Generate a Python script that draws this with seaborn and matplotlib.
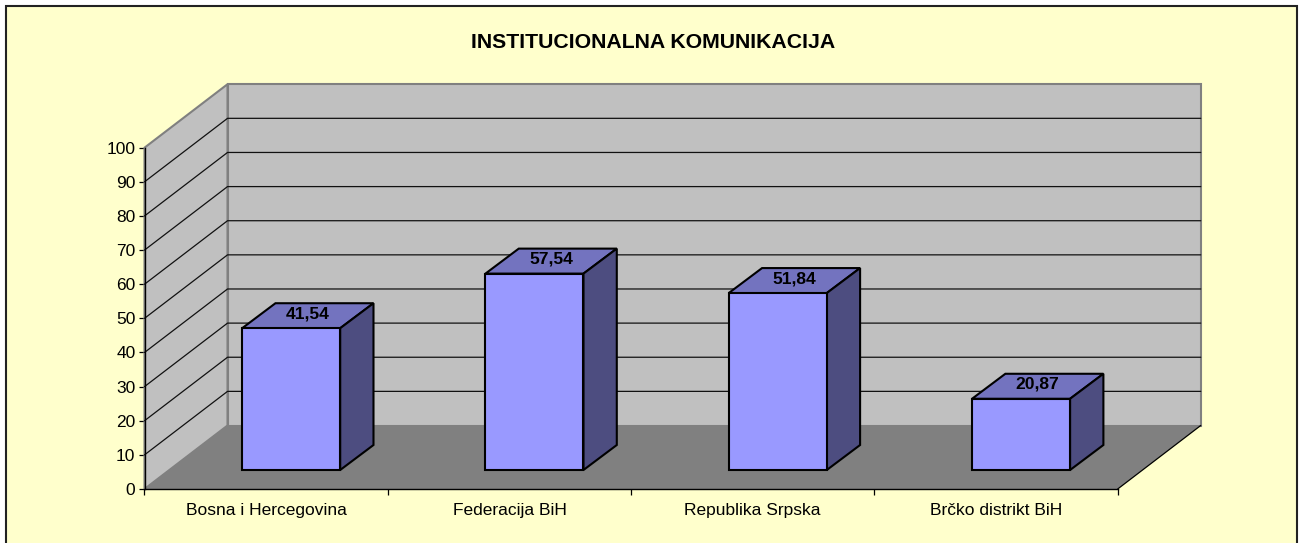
#!/usr/bin/env python3
"""Institutional communication scores, drawn as a fake-3D column chart."""

from __future__ import annotations

import matplotlib

matplotlib.use("Agg")

import matplotlib.pyplot as plt
import matplotlib.transforms as mtrans
import pandas as pd
import seaborn as sns
from matplotlib.patches import Polygon, Rectangle

TITLE = "INSTITUCIONALNA KOMUNIKACIJA"
REGIONS = ["Bosna i Hercegovina", "Federacija BiH", "Republika Srpska", "Brčko distrikt BiH"]
SCORES = [41.54, 57.54, 51.84, 20.87]
Y_TICKS = list(range(0, 101, 10))

W, H = 1299, 543
# depth of the chart box and of each column, in data units
DEPTH_X, DEPTH_Y = 83 / 243.2, 63.5 / 3.413
BAR_DX, BAR_DY = 33.3 / 243.2, 25 / 3.413
# columns stand this far back from the front edge of the floor
SHIFT_X, SHIFT_Y = 25 / 243.2, 19 / 3.413

BG = "#FFFFCC"
WALL = "#C0C0C0"
FLOOR = "#808080"
FRONT = "#9999FF"
TOP = "#7373BF"
SIDE = "#4D4D80"


def main() -> None:
    sns.set_theme(style="white")
    plt.rcParams["font.family"] = ["Liberation Sans", "DejaVu Sans"]

    fig = plt.figure(figsize=(W / 100, H / 100), dpi=100, facecolor="white")
    fig.add_artist(
        Rectangle(
            (6 / W, -0.02),
            (1297 - 6) / W,
            1.02 - 5.5 / H,
            transform=fig.transFigure,
            facecolor=BG,
            edgecolor="#222222",
            linewidth=1.5,
            zorder=-1,
        )
    )
    ax = fig.add_axes([144.5 / W, (H - 489) / H, 973.2 / W, 341.3 / H])
    ax.patch.set_alpha(0)

    df = pd.DataFrame({"region": REGIONS, "score": SCORES})
    sns.barplot(
        data=df,
        x="region",
        y="score",
        color=FRONT,
        saturation=1,
        width=98 / 243.2,
        edgecolor="black",
        linewidth=1.5,
        ax=ax,
        zorder=6,
    )
    ax.set_xlim(-0.5, len(REGIONS) - 0.5)
    ax.set_ylim(0, 100)

    x0, x1 = ax.get_xlim()
    wall_style = {"clip_on": False, "linewidth": 1.5, "edgecolor": FLOOR, "facecolor": WALL}
    # side wall, back wall, floor
    ax.add_patch(
        Polygon(
            [(x0, 0), (x0, 100), (x0 + DEPTH_X, 100 + DEPTH_Y), (x0 + DEPTH_X, DEPTH_Y)],
            zorder=1,
            **wall_style,
        )
    )
    ax.add_patch(
        Rectangle((x0 + DEPTH_X, DEPTH_Y), x1 - x0, 100, zorder=1, **wall_style)
    )
    ax.add_patch(
        Polygon(
            [(x0, 0), (x1, 0), (x1 + DEPTH_X, DEPTH_Y), (x0 + DEPTH_X, DEPTH_Y)],
            facecolor=FLOOR,
            edgecolor="none",
            clip_on=False,
            zorder=2,
        )
    )
    ax.plot(
        [x1, x1 + DEPTH_X], [0, DEPTH_Y], color="black", lw=0.9, clip_on=False, zorder=3
    )

    # gridlines wrap from the side wall on to the back wall
    for val in Y_TICKS[1:-1]:
        ax.plot(
            [x0, x0 + DEPTH_X, x1 + DEPTH_X],
            [val, val + DEPTH_Y, val + DEPTH_Y],
            color="#111111",
            lw=0.9,
            clip_on=False,
            zorder=3,
        )

    # push the seaborn columns back on to the floor and give them depth
    shift = mtrans.Affine2D().translate(SHIFT_X, SHIFT_Y) + ax.transData
    for bar, score in zip(ax.patches[:len(SCORES)], SCORES):
        bar.set_transform(shift)
        bar.set_clip_on(False)
        left, right = bar.get_x(), bar.get_x() + bar.get_width()
        bottom, top = bar.get_y(), bar.get_y() + bar.get_height()
        ax.add_patch(
            Polygon(
                [
                    (left, top),
                    (right, top),
                    (right + BAR_DX, top + BAR_DY),
                    (left + BAR_DX, top + BAR_DY),
                ],
                transform=shift,
                facecolor=TOP,
                edgecolor="black",
                linewidth=1.5,
                clip_on=False,
                zorder=5,
            )
        )
        ax.add_patch(
            Polygon(
                [
                    (right, bottom),
                    (right + BAR_DX, bottom + BAR_DY),
                    (right + BAR_DX, top + BAR_DY),
                    (right, top),
                ],
                transform=shift,
                facecolor=SIDE,
                edgecolor="black",
                linewidth=1.5,
                clip_on=False,
                zorder=5,
            )
        )
        ax.annotate(
            f"{score:.2f}".replace(".", ","),
            ((left + right + BAR_DX) / 2, top + BAR_DY / 2),
            xycoords=shift,
            xytext=(0, 2),
            textcoords="offset pixels",
            ha="center",
            va="center",
            fontsize=12.6,
            fontweight="bold",
            color="black",
            zorder=7,
        )

    for side in ("top", "right"):
        ax.spines[side].set_visible(False)
    for side in ("left", "bottom"):
        ax.spines[side].set_color("black")
        ax.spines[side].set_linewidth(1.0)
        ax.spines[side].set_zorder(8)

    ax.set_xlabel("")
    ax.set_ylabel("")
    ax.set_yticks(Y_TICKS)
    ax.set_yticklabels([str(v) for v in Y_TICKS])
    ax.set_xticks([i - 0.5 for i in range(len(REGIONS) + 1)])
    ax.set_xticklabels([])
    ax.set_xticks(range(len(REGIONS)), REGIONS, minor=True)
    ax.tick_params(axis="y", which="major", left=True, length=4, width=0.9, color="black",
                   pad=2.5, labelsize=12.5, labelcolor="black")
    ax.tick_params(axis="x", which="major", bottom=True, length=4, width=0.9, color="black")
    ax.tick_params(axis="x", which="minor", bottom=False, length=0, pad=10,
                   labelsize=12.5, labelcolor="black")

    fig.text(653 / W, 1 - 42.5 / H, TITLE, ha="center", va="center",
             fontsize=15.3, fontweight="bold", color="black")

    fig.savefig("out.png", dpi=100, facecolor=fig.get_facecolor())
    plt.close(fig)


if __name__ == "__main__":
    main()
